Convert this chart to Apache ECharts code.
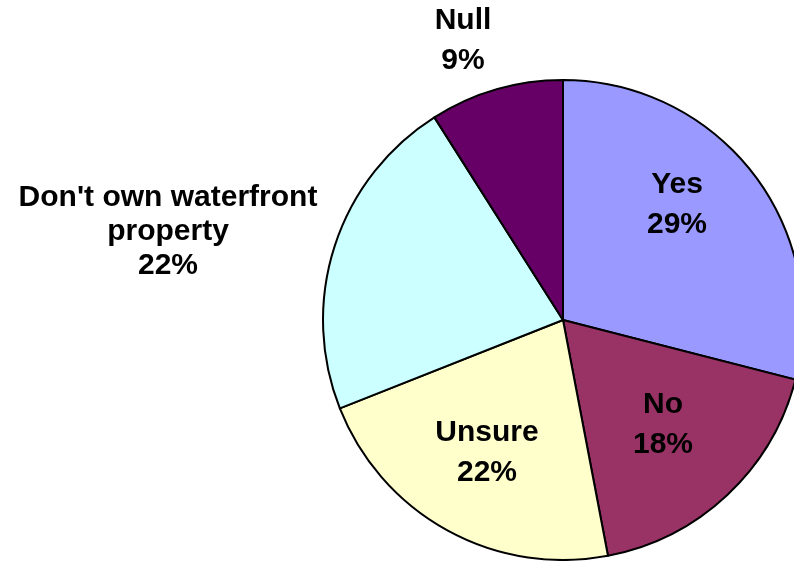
<!DOCTYPE html>
<html>
<head>
<meta charset="utf-8">
<script src="https://cdn.jsdelivr.net/npm/echarts@6/dist/echarts.min.js"></script>
<style>
  html, body { margin: 0; padding: 0; background: #fff; }
  #chart { width: 794px; height: 561px; }
</style>
</head>
<body>
<div id="chart"></div>
<script>
// answers, clockwise from 12 o'clock
const categories = ['Yes', 'No', 'Unsure', "Don't own waterfront\nproperty", 'Null']
const shares = [29, 18, 22, 22, 9]
const colors = ['#9999ff', '#993366', '#ffffcc', '#ccffff', '#660066']

// where each label block sits (centre of text)
const labelSpots = [
  [677, 205],
  [663, 425],
  [487, 453],
  [168, 232],
  [463, 41]
]

const chart = echarts.init(document.getElementById('chart'))

chart.setOption({
  animation: false,
  series: [{
    type: 'pie',
    center: [563, 320],
    radius: 240,
    startAngle: 90,
    clockwise: true,
    avoidLabelOverlap: false,
    itemStyle: {
      borderColor: '#000',
      borderWidth: 2
    },
    label: {
      show: true,
      position: 'inside',
      formatter: p => p.name + '\n' + p.value + '%',
      color: '#000',
      fontFamily: 'Liberation Sans, Arial, sans-serif',
      fontWeight: 'bold',
      fontSize: 30,
      lineHeight: 40,
      align: 'center'
    },
    labelLine: { show: false },
    labelLayout: params => {
      const spot = labelSpots[params.dataIndex]
      return {
        x: spot[0],
        y: spot[1],
        align: 'center',
        verticalAlign: 'middle'
      }
    },
    emphasis: { disabled: true },
    data: categories.map((name, i) => ({
      name,
      value: shares[i],
      itemStyle: { color: colors[i] },
      // the three-line label is set tighter
      label: name.includes('\n') ? { lineHeight: 34 } : undefined
    }))
  }]
})
</script>
</body>
</html>
